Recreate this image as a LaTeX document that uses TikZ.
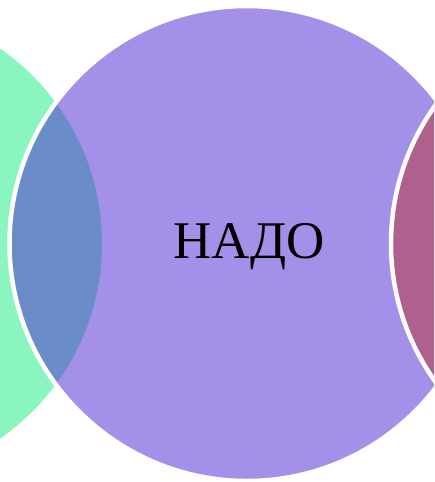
\documentclass[tikz,border=0pt]{standalone}
\usepackage{fontspec}
\setmainfont{Liberation Serif}
\definecolor{vgreen}{HTML}{8BF5BF}
\definecolor{vpurple}{HTML}{A48FE9}
\definecolor{vblue}{HTML}{6A8CC8}
\definecolor{vred}{HTML}{B0608C}
\begin{document}
\begin{tikzpicture}[x=1pt, y=-1pt,
    ring/.style={draw=white, line width=4.5pt}]
    \useasboundingbox (0,0) rectangle (434,482);
    \clip (0,0) rectangle (434,482);

    % Circles
    \fill[vgreen] (-135.5,243.5) circle (237.5pt);
    \fill[vpurple] (247,243.5) circle (237.5pt);

    % Overlap left
    \begin{scope}
        \clip (-135.5,243.5) circle (237.5pt);
        \fill[vblue] (247,243.5) circle (237.5pt);
    \end{scope}
    \draw[ring] (247,243.5) circle (237.5pt);

    % Right circle
    \fill[vred, ring] (628.5,243.5) circle (237.5pt);

    % Label
    \node[font=\fontsize{53}{60}\selectfont] (nado) at (249,247) {НАДО};
\end{tikzpicture}
\end{document}
